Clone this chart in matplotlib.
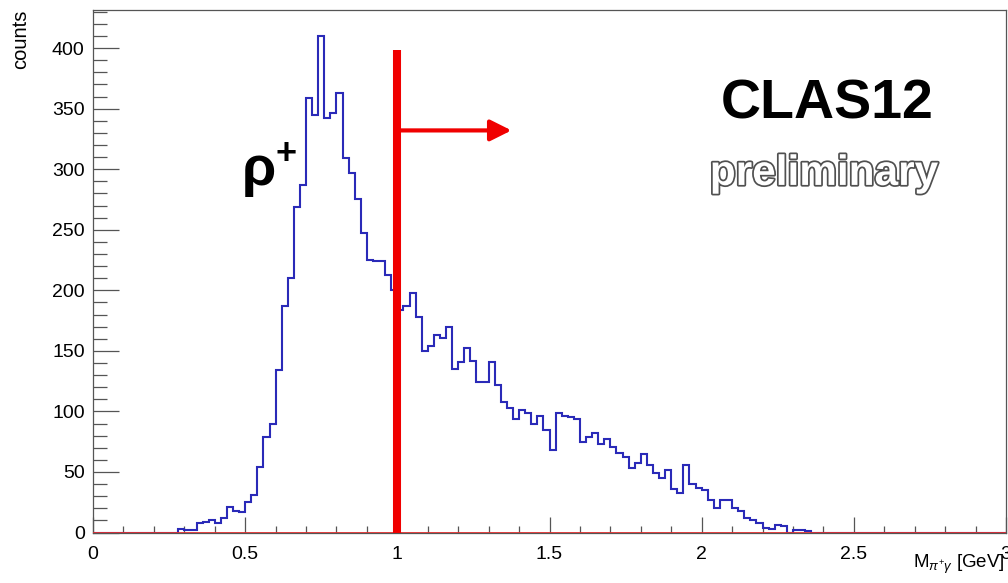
import numpy as np
import matplotlib
matplotlib.use('Agg')
import matplotlib.pyplot as plt
import matplotlib.patheffects as pe
from matplotlib.ticker import MultipleLocator

plt.rcParams['font.family'] = ['Liberation Sans', 'DejaVu Sans']
plt.rcParams['mathtext.fontset'] = 'custom'
plt.rcParams['mathtext.rm'] = 'Liberation Sans'
plt.rcParams['mathtext.it'] = 'Liberation Sans:italic'
plt.rcParams['mathtext.bf'] = 'Liberation Sans:bold'

# histogram: 150 bins of 0.02 GeV from 0 to 3, non-empty from bin 14 to 117
x_min, x_max, n_bins = 0.0, 3.0, 150
first_bin = 14
counts_nonzero = [3, 2, 2, 8, 9, 10, 8, 12, 21, 18, 17, 25, 31, 54, 79, 90,
                  134, 187, 210, 269, 287, 359, 345, 410, 342, 346, 363, 309,
                  297, 275, 247, 225, 224, 224, 213, 200, 184, 187, 198, 178,
                  150, 154, 163, 161, 170, 135, 141, 152, 142, 124, 124, 141,
                  122, 108, 103, 94, 101, 99, 90, 96, 85, 68, 99, 96, 95, 94,
                  75, 79, 82, 73, 77, 71, 66, 62, 53, 57, 65, 56, 49, 45, 52,
                  36, 33, 56, 40, 37, 35, 27, 20, 27, 27, 20, 18, 12, 10, 8,
                  4, 3, 6, 5, 0, 2, 2, 1]

cut_value = 1.0
cut_top = 398
arrow_y = 332
arrow_end = 1.375

edges = np.linspace(x_min, x_max, n_bins + 1)
counts = np.zeros(n_bins)
counts[first_bin:first_bin + len(counts_nonzero)] = counts_nonzero

fig = plt.figure(figsize=(10.08, 5.83), dpi=100)
ax = fig.add_axes([0.0923, 0.0866, 0.9057, 0.8964])

ax.stairs(counts, edges, color='#2a2ab8', lw=1.5, zorder=2)
ax.plot([x_min, x_max], [0, 0], color='#e03030', lw=1.3, zorder=3)

ax.plot([cut_value, cut_value], [0, cut_top], color='#f00000', lw=5.8,
        solid_capstyle='butt', zorder=4)
ax.annotate('', xy=(arrow_end, arrow_y), xytext=(cut_value, arrow_y),
            arrowprops=dict(arrowstyle='-|>', color='#f00000', lw=3,
                            mutation_scale=32, shrinkA=0, shrinkB=0), zorder=4)

ax.text(0.49, 287, '\u03c1', fontsize=40, fontweight='bold', color='black',
        ha='left', va='baseline')
ax.text(0.635, 312, '+', fontsize=26, fontweight='bold', color='black',
        ha='center', va='center')

ax.text(2.414, 342, 'CLAS12', fontsize=40, fontweight='bold', color='black',
        ha='center', va='baseline')
t = ax.text(2.403, 287, 'preliminary', fontsize=30.5, fontweight='bold',
            color='white', ha='center', va='baseline')
t.set_path_effects([pe.Stroke(linewidth=2.5, foreground='#505050'), pe.Normal()])

ax.set_xlim(x_min, x_max)
ax.set_ylim(0, 431.5)

ax.xaxis.set_major_locator(MultipleLocator(0.5))
ax.xaxis.set_minor_locator(MultipleLocator(0.1))
ax.yaxis.set_major_locator(MultipleLocator(50))
ax.yaxis.set_minor_locator(MultipleLocator(10))
ax.set_xticks([0, 0.5, 1, 1.5, 2, 2.5, 3])
ax.set_xticklabels(['0', '0.5', '1', '1.5', '2', '2.5', '3'])

ax.tick_params(axis='both', which='both', direction='in', colors='#555555',
               labelcolor='black', labelsize=14, width=0.9)
ax.tick_params(axis='x', which='major', length=11.5, pad=10)
ax.tick_params(axis='x', which='minor', length=5)
ax.tick_params(axis='y', which='major', length=19, pad=6)
ax.tick_params(axis='y', which='minor', length=10)
ax.tick_params(top=False, right=False, which='both')
for s in ax.spines.values():
    s.set_color('#555555')
    s.set_linewidth(0.9)

fig.text(0.020, 0.983, 'counts', rotation=90, fontsize=14.5, ha='center', va='top')
fig.text(0.997, 0.026, r'M$_{\pi^{+}\gamma}$ [GeV]', fontsize=13.5, ha='right',
         va='baseline')

plt.savefig('out.png', dpi=100)
